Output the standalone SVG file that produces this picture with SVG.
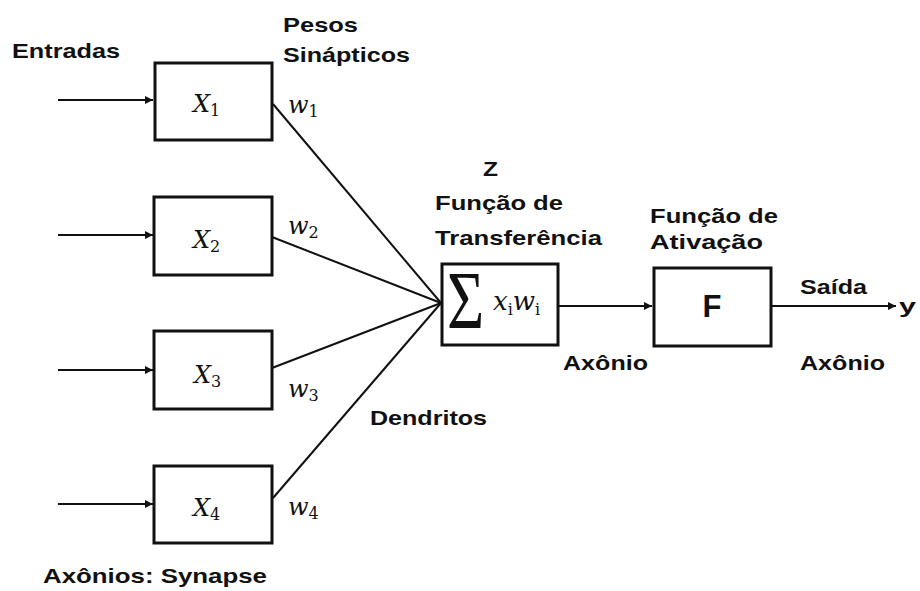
<svg xmlns="http://www.w3.org/2000/svg" width="920" height="591" viewBox="0 0 920 591">
  <style>
    .lbl { font-family: "Liberation Sans", Arial, sans-serif; font-weight: bold; font-size: 21px; fill: #111; }
    .box { fill: #fff; stroke: #111; stroke-width: 3; }
    .wire { stroke: #111; stroke-width: 2; fill: none; }
    .math { font-family: "DejaVu Serif", "Liberation Serif", serif; font-style: italic; font-size: 24px; fill: #111; }
    .sub { font-family: "DejaVu Serif", "Liberation Serif", serif; font-style: normal; font-size: 16px; fill: #111; }
    .big { font-size: 26px; }
  </style>
  <defs>
    <marker id="arrow" viewBox="0 0 10 10" refX="10" refY="5" markerWidth="5" markerHeight="4" orient="auto" markerUnits="strokeWidth">
      <path d="M0,0 L10,5 L0,10 z" fill="#111"/>
    </marker>
  </defs>
  <rect width="920" height="591" fill="#fff"/>

  <!-- free labels -->
  <g id="labels">
    <text class="lbl" x="12" y="58" textLength="108" lengthAdjust="spacingAndGlyphs">Entradas</text>
    <text class="lbl" x="283" y="32" textLength="75" lengthAdjust="spacingAndGlyphs">Pesos</text>
    <text class="lbl" x="283" y="62" textLength="127" lengthAdjust="spacingAndGlyphs">Sinápticos</text>
    <text class="lbl" x="483" y="176" style="font-size:20px" textLength="15" lengthAdjust="spacingAndGlyphs">Z</text>
    <text class="lbl" x="435" y="210" textLength="128" lengthAdjust="spacingAndGlyphs">Função de</text>
    <text class="lbl" x="435" y="245" textLength="167" lengthAdjust="spacingAndGlyphs">Transferência</text>
    <text class="lbl" x="650" y="223" textLength="128" lengthAdjust="spacingAndGlyphs">Função de</text>
    <text class="lbl" x="650" y="249" textLength="113" lengthAdjust="spacingAndGlyphs">Ativação</text>
    <text class="lbl" x="800" y="294" textLength="67" lengthAdjust="spacingAndGlyphs">Saída</text>
    <text class="lbl" x="563" y="370" textLength="85" lengthAdjust="spacingAndGlyphs">Axônio</text>
    <text class="lbl" x="800" y="370" textLength="85" lengthAdjust="spacingAndGlyphs">Axônio</text>
    <text class="lbl" x="370" y="425" textLength="117" lengthAdjust="spacingAndGlyphs">Dendritos</text>
    <text class="lbl" x="43" y="583" textLength="224" lengthAdjust="spacingAndGlyphs">Axônios: Synapse</text>
    <text class="lbl" x="899" y="313" textLength="17" lengthAdjust="spacingAndGlyphs">y</text>
    <!-- weights -->
    <text class="math" x="288" y="113">w<tspan class="sub" dy="4">1</tspan></text>
    <text class="math" x="288" y="234">w<tspan class="sub" dy="4">2</tspan></text>
    <text class="math" x="288" y="397">w<tspan class="sub" dy="4">3</tspan></text>
    <text class="math" x="288" y="515">w<tspan class="sub" dy="4">4</tspan></text>
  </g>

  <!-- connectors -->
  <g id="connectors">
    <line class="wire" x1="58" y1="100" x2="153" y2="100" marker-end="url(#arrow)"/>
    <line class="wire" x1="58" y1="235" x2="153" y2="235" marker-end="url(#arrow)"/>
    <line class="wire" x1="58" y1="370" x2="153" y2="370" marker-end="url(#arrow)"/>
    <line class="wire" x1="58" y1="504" x2="153" y2="504" marker-end="url(#arrow)"/>
    <line class="wire" x1="273" y1="104" x2="441" y2="303"/>
    <line class="wire" x1="272" y1="237" x2="441" y2="303"/>
    <line class="wire" x1="272" y1="368" x2="441" y2="303"/>
    <line class="wire" x1="273" y1="498" x2="441" y2="303"/>
    <line class="wire" x1="559" y1="306" x2="652" y2="306" marker-end="url(#arrow)"/>
    <line class="wire" x1="772" y1="306" x2="896" y2="306" marker-end="url(#arrow)"/>
  </g>

  <!-- input nodes -->
  <g id="x1">
    <rect class="box" x="155" y="63" width="117" height="77"/>
    <text class="math" x="193" y="112">X<tspan class="sub" dy="4">1</tspan></text>
  </g>
  <g id="x2">
    <rect class="box" x="154" y="197" width="118" height="78"/>
    <text class="math" x="193" y="248">X<tspan class="sub" dy="4">2</tspan></text>
  </g>
  <g id="x3">
    <rect class="box" x="154" y="331" width="118" height="78"/>
    <text class="math" x="194" y="383">X<tspan class="sub" dy="4">3</tspan></text>
  </g>
  <g id="x4">
    <rect class="box" x="154" y="466" width="118" height="77"/>
    <text class="math" x="193" y="516">X<tspan class="sub" dy="4">4</tspan></text>
  </g>

  <!-- summation node -->
  <g id="sum">
    <rect class="box" x="442" y="264" width="116" height="81"/>
    <text transform="translate(447,328) scale(0.78,1)" x="0" y="0" font-family="Liberation Serif, serif" font-size="82" fill="#111">Σ</text>
    <text class="math big" x="493" y="310">x<tspan class="sub" dy="5">i</tspan><tspan dy="-5">w</tspan><tspan class="sub" dy="5">i</tspan></text>
  </g>

  <!-- activation node -->
  <g id="activation">
    <rect class="box" x="654" y="268" width="117" height="78"/>
    <text class="lbl" x="712" y="317" style="font-size:31px" text-anchor="middle">F</text>
  </g>
</svg>
